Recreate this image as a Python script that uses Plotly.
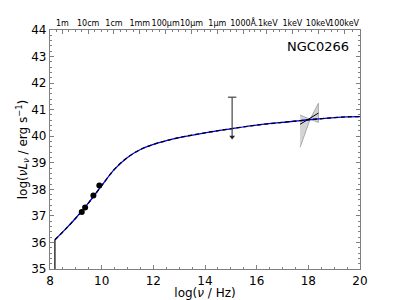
import numpy as np
import plotly.graph_objects as go

# SED model curve (log nu, log nuLnu)
model_x = [8.19, 8.6, 9.0, 9.5, 10.0, 10.5, 11.0, 11.5, 12.0, 12.5, 13.0, 14.0, 15.0, 16.0, 17.0, 17.7, 18.0, 19.0, 19.5, 20.0]
model_y = [36.10, 36.50, 36.92, 37.50, 38.14, 38.76, 39.20, 39.50, 39.69, 39.83, 39.95, 40.13, 40.28, 40.42, 40.52, 40.59, 40.62, 40.70, 40.73, 40.74]

# radio photometry
pts_x = [9.23, 9.36, 9.68, 9.91]
pts_y = [37.15, 37.32, 37.77, 38.14]

# upper limit
ul_x = [15.05]
ul_y = [41.47]
ul_len = 1.5

# X-ray bowtie (2-10 keV)
bow_x = [17.68, 18.07, 18.39]
bow_hi = [40.80, 40.64, 41.24]
bow_lo = [39.58, 40.64, 40.52]
bow_fit = [40.45, 40.87]

# top axis wavelength/energy labels
top_labels = ["1m", "10cm", "1cm", "1mm", "100μm", "10μm", "1μm", "1000Å", ".1keV", "1keV", "10keV", "100keV"]
c = 2.998e8
h_ev = 4.1357e-15
wl_m = [1, 0.1, 0.01, 1e-3, 1e-4, 1e-5, 1e-6, 1e-7]
ener_ev = [100, 1e3, 1e4, 1e5]
top_vals = [float(np.log10(c / w)) for w in wl_m] + [float(np.log10(e / h_ev)) for e in ener_ev]
top_minor = []
ext = [8.0] + top_vals + [20.0]
for a, b in zip(ext[:-1], ext[1:]):
    n = max(1, int(round((b - a) / 0.25)))
    for k in range(1, n):
        top_minor.append(a + (b - a) * k / n)

font = "DejaVu Sans"
fig = go.Figure()

# bowtie
poly_x = bow_x + bow_x[::-1]
poly_y = bow_hi + bow_lo[::-1]
fig.add_trace(go.Scatter(x=poly_x, y=poly_y, fill="toself", fillcolor="#d4d4d4",
                         line=dict(color="#999999", width=0.8), mode="lines", showlegend=False))
fig.add_trace(go.Scatter(x=[bow_x[0], bow_x[-1]], y=bow_fit, mode="lines",
                         line=dict(color="black", width=1), showlegend=False))

# vertical start line
fig.add_trace(go.Scatter(x=[model_x[0], model_x[0]], y=[35, model_y[0]], mode="lines",
                         line=dict(color="black", width=1.2), showlegend=False))
# model curve
fig.add_trace(go.Scatter(x=model_x, y=model_y, mode="lines", line=dict(color="blue", width=1.3, shape="spline"),
                         showlegend=False))
fig.add_trace(go.Scatter(x=model_x, y=model_y, mode="lines",
                         line=dict(color="black", width=1.3, dash="4px,3px", shape="spline"), showlegend=False))

# upper limit
fig.add_trace(go.Scatter(x=[ul_x[0], ul_x[0]], y=[ul_y[0], ul_y[0] - ul_len], mode="lines",
                         line=dict(color="#444444", width=1.2), showlegend=False))
fig.add_trace(go.Scatter(x=ul_x, y=ul_y, mode="markers",
                         marker=dict(symbol="line-ew", size=6, line=dict(color="#444444", width=1.2)), showlegend=False))
fig.add_trace(go.Scatter(x=ul_x, y=[ul_y[0] - ul_len], mode="markers",
                         marker=dict(symbol="triangle-down", size=5, color="#222222"), showlegend=False))

# points
fig.add_trace(go.Scatter(x=pts_x, y=pts_y, mode="markers", marker=dict(color="black", size=6), showlegend=False))

fig.add_trace(go.Scatter(x=[8, 20], y=[35, 35], xaxis="x2", mode="markers", marker=dict(opacity=0),
                         showlegend=False, hoverinfo="skip"))

axcol = "#808080"
fig.update_layout(
    width=400, height=300,
    margin=dict(l=50, r=40, t=30, b=31),
    paper_bgcolor="white", plot_bgcolor="white",
    font=dict(family=font, color="black"),
    xaxis=dict(range=[8, 20], tickvals=[8, 10, 12, 14, 16, 18, 20], ticks="inside", ticklen=4,
               tickcolor=axcol, showline=True, linecolor=axcol, linewidth=1.2, mirror=False,
               showgrid=False, zeroline=False, tickfont=dict(size=12), automargin=False, tickangle=0,
               minor=dict(dtick=0.5, ticks="inside", ticklen=2, tickcolor=axcol),
               title=dict(text="log(<i>ν</i> / Hz)", font=dict(size=12), standoff=0)),
    xaxis2=dict(range=[8, 20], overlaying="x", side="top", tickvals=top_vals, ticktext=top_labels,
                ticks="inside", ticklen=4, tickcolor=axcol, showline=True, linecolor=axcol, linewidth=1.2,
                showgrid=False, zeroline=False, tickfont=dict(size=8), automargin=False, tickangle=0,
                minor=dict(tickvals=top_minor, ticks="inside", ticklen=2, tickcolor=axcol)),
    yaxis=dict(range=[35, 44], dtick=1, ticks="inside", ticklen=4, tickcolor=axcol, showline=True,
               linecolor=axcol, linewidth=1.2, mirror="ticks", showgrid=False, zeroline=False,
               tickfont=dict(size=12), automargin=False,
               minor=dict(dtick=0.2, ticks="inside", ticklen=2, tickcolor=axcol),
               title=dict(text="log(<i>ν</i><i>L</i><sub><i>ν</i></sub> / erg s<sup>−1</sup>)",
                          font=dict(size=12), standoff=0)),
    annotations=[dict(text="NGC0266", x=0.97, y=0.93, xref="paper", yref="paper", xanchor="right",
                      yanchor="middle", showarrow=False, font=dict(size=13, family=font))],
)
fig.write_html("out.html", config={"displayModeBar": False},
               post_script="document.body.style.margin='0';document.body.style.overflow='hidden';")
